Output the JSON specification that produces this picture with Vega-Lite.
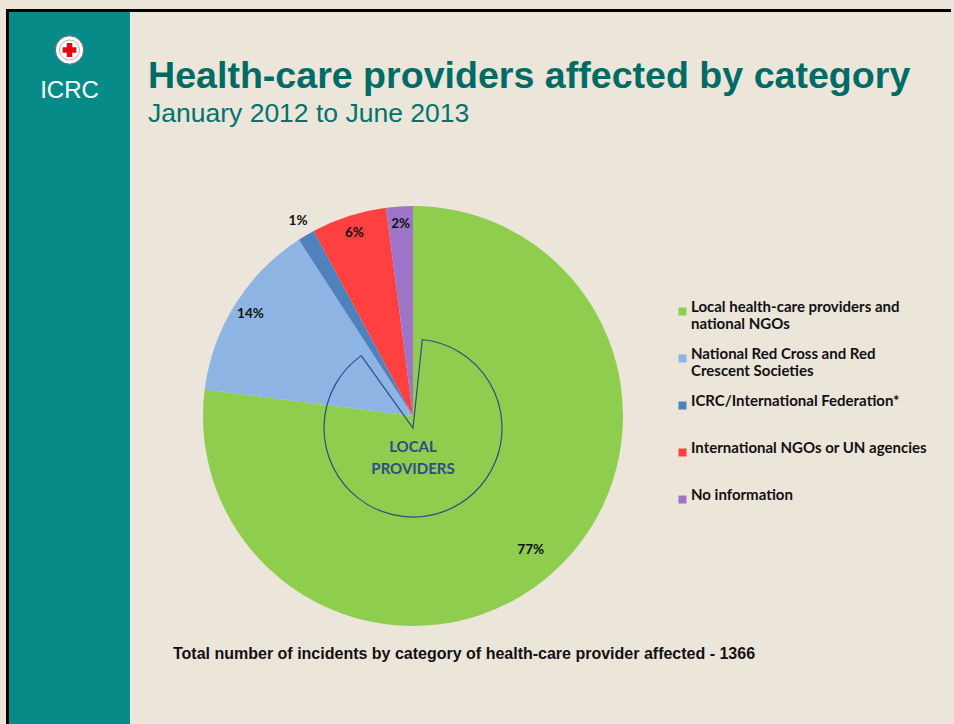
{
  "$schema": "https://vega.github.io/schema/vega-lite/v6.json",
  "background": "#EBE5DA",
  "padding": {"left": 6, "top": 9, "right": 3, "bottom": 0},
  "spacing": 0,
  "config": {"view": {"stroke": null}, "concat": {"spacing": 0}, "font": "Liberation Sans"},
  "datasets": {
    "providers": [
      {"category": "Local health-care providers and national NGOs", "incidents": 1052, "label": "77%", "idx": 1},
      {"category": "National Red Cross and Red Crescent Societies", "incidents": 189, "label": "14%", "idx": 2},
      {"category": "ICRC/International Federation*", "incidents": 18, "label": "1%", "idx": 3},
      {"category": "International NGOs or UN agencies", "incidents": 79, "label": "6%", "idx": 4},
      {"category": "No information", "incidents": 28, "label": "2%", "idx": 5}
    ]
  },
  "hconcat": [
    {"width": 3, "height": 715, "view": {"fill": "#000000", "stroke": null}, "data": {"values": []}, "mark": "point", "encoding": {}},
    {
      "spacing": 0,
      "vconcat": [
        {"width": 942, "height": 3, "data": {"values": [{"border": "top"}]}, "mark": {"type": "rect", "color": "#000000", "opacity": 1}, "encoding": {}},
        {
          "spacing": 0,
          "hconcat": [
            {
              "spacing": 0,
              "bounds": "flush",
              "vconcat": [
                {"width": 121, "height": 20, "view": {"fill": "#078B88", "stroke": null}, "data": {"values": []}, "mark": "point", "encoding": {}},
                {
                  "width": 121, "height": 36, "view": {"fill": "#078B88", "stroke": null},
                  "data": {"values": [{"emblem": "red cross"}]},
                  "layer": [
                    {"mark": {"type": "point", "shape": "circle", "filled": true, "size": 800, "fill": "#FFFFFF", "stroke": "#6D6D6D", "strokeWidth": 1, "opacity": 1}, "encoding": {}},
                    {"mark": {"type": "point", "shape": "circle", "filled": false, "size": 400, "stroke": "#A0A0A0", "strokeWidth": 0.8, "opacity": 1}, "encoding": {}},
                    {"mark": {"type": "point", "shape": "cross", "filled": true, "size": 190, "color": "#E30613", "opacity": 1}, "encoding": {}}
                  ]
                },
                {
                  "width": 121, "height": 45, "view": {"fill": "#078B88", "stroke": null},
                  "data": {"values": [{"name": "ICRC"}]},
                  "mark": {"type": "text", "font": "Liberation Sans", "fontSize": 24, "color": "#FFFFFF", "baseline": "middle"},
                  "encoding": {"text": {"field": "name"}}
                },
                {"width": 121, "height": 611, "view": {"fill": "#078B88", "stroke": null}, "data": {"values": []}, "mark": "point", "encoding": {}}
              ]
            },
            {
              "spacing": 0,
              "vconcat": [
                {"width": 10, "height": 46, "data": {"values": []}, "mark": "point", "encoding": {}},
                {
                  "width": 566, "height": 440,
                  "title": {
                    "text": "Health-care providers affected by category",
                    "subtitle": "January 2012 to June 2013",
                    "anchor": "start", "frame": "group", "dx": 18,
                    "font": "Liberation Sans", "fontSize": 37.6, "fontWeight": "bold", "color": "#006B64",
                    "subtitleFont": "Liberation Sans", "subtitleFontSize": 26.5, "subtitleColor": "#00736C",
                    "subtitlePadding": 5, "offset": 56
                  },
                  "data": {"name": "providers"},
                  "layer": [
                    {
                      "mark": {"type": "arc", "outerRadius": 210},
                      "encoding": {
                        "theta": {"field": "incidents", "type": "quantitative", "stack": true},
                        "order": {"field": "idx", "type": "quantitative"},
                        "color": {
                          "field": "category", "type": "nominal",
                          "scale": {
                            "domain": ["Local health-care providers and national NGOs", "National Red Cross and Red Crescent Societies", "ICRC/International Federation*", "International NGOs or UN agencies", "No information"],
                            "range": ["#8FCD4F", "#8EB4E3", "#4F81BD", "#FF4040", "#9E74C9"]
                          },
                          "legend": {
                            "orient": "none", "legendX": 669, "legendY": 295, "title": null,
                            "symbolType": "square", "symbolSize": 64, "symbolStrokeWidth": 0,
                            "labelFont": "Lato", "labelFontSize": 15, "labelFontWeight": "bold", "labelColor": "#111111",
                            "labelLimit": 320, "labelOffset": 1, "rowPadding": 14, "padding": 0,
                            "labelBaseline": "alphabetic",
                            "labelExpr": "datum.label == 'Local health-care providers and national NGOs' ? ['Local health-care providers and', 'national NGOs'] : datum.label == 'National Red Cross and Red Crescent Societies' ? ['National Red Cross and Red', 'Crescent Societies'] : [datum.label, ' ']"
                          }
                        }
                      }
                    },
                    {
                      "mark": {"type": "text", "radius": 178, "font": "Lato", "fontSize": 13.5, "fontWeight": "bold", "color": "#111111"},
                      "encoding": {
                        "theta": {"field": "incidents", "type": "quantitative", "stack": true},
                        "order": {"field": "idx", "type": "quantitative"},
                        "detail": {"field": "category", "type": "nominal"},
                        "text": {"condition": {"test": "datum.idx == 1", "field": "label"}, "value": ""}
                      }
                    },
                    {
                      "mark": {"type": "text", "radius": 192, "font": "Lato", "fontSize": 13.5, "fontWeight": "bold", "color": "#111111"},
                      "encoding": {
                        "theta": {"field": "incidents", "type": "quantitative", "stack": true},
                        "order": {"field": "idx", "type": "quantitative"},
                        "detail": {"field": "category", "type": "nominal"},
                        "text": {"condition": {"test": "datum.idx == 2 || datum.idx == 4 || datum.idx == 5", "field": "label"}, "value": ""}
                      }
                    },
                    {
                      "mark": {"type": "text", "radius": 226, "font": "Lato", "fontSize": 13.5, "fontWeight": "bold", "color": "#111111"},
                      "encoding": {
                        "theta": {"field": "incidents", "type": "quantitative", "stack": true},
                        "order": {"field": "idx", "type": "quantitative"},
                        "detail": {"field": "category", "type": "nominal"},
                        "text": {"condition": {"test": "datum.idx == 3", "field": "label"}, "value": ""}
                      }
                    },
                    {
                      "data": {"values": [{"note": "LOCAL PROVIDERS"}]},
                      "mark": {"type": "arc", "theta": 0.105, "theta2": 5.662, "outerRadius": 89, "filled": false, "stroke": "#2E4C87", "strokeWidth": 1.2, "yOffset": 12},
                      "encoding": {}
                    },
                    {
                      "data": {"values": [{"note": "LOCAL PROVIDERS"}]},
                      "mark": {"type": "text", "lineBreak": " ", "yOffset": 31, "font": "Lato", "fontSize": 15, "fontWeight": "bold", "color": "#2E4C87", "lineHeight": 22, "baseline": "middle"},
                      "encoding": {"text": {"field": "note"}}
                    }
                  ]
                },
                {
                  "width": 86, "height": 36,
                  "data": {"values": [{"note": "Total number of incidents by category of health-care provider affected - 1366"}]},
                  "mark": {"type": "text", "align": "left", "baseline": "middle", "font": "Liberation Sans", "fontWeight": "bold", "fontSize": 16, "color": "#111111"},
                  "encoding": {"text": {"field": "note"}}
                }
              ]
            }
          ]
        }
      ]
    }
  ]
}
